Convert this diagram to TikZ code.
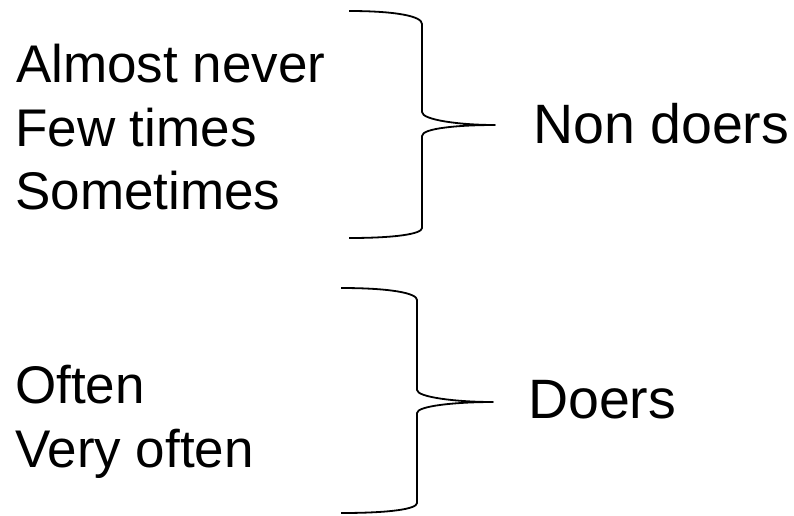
\documentclass[tikz,border=0pt]{standalone}
\usepackage{fontspec}
\setmainfont{Liberation Sans}
\begin{document}
\begin{tikzpicture}[x=1pt,y=-1pt,
  lbl/.style={anchor=base west,inner sep=0pt,font=\fontsize{53}{60}\selectfont},
  grp/.style={anchor=base west,inner sep=0pt,font=\fontsize{55.5}{62}\selectfont},
  brace/.style={draw=black,line width=1.8pt,line join=round}]
\useasboundingbox (0,0) rectangle (794,515);
\node[lbl] (a1) at (16,82) {Almost never};
\node[lbl] (a2) at (15,146) {Few times};
\node[lbl] (a3) at (15,209) {Sometimes};
\node[grp] (nd) at (533,143) {Non doers};
\node[lbl] (b1) at (15,403) {Often};
\node[lbl] (b2) at (15,467) {Very often};
\node[grp] (d) at (528,418) {Doers};
\coordinate (t1) at (495,125);
\coordinate (t2) at (493,402);
\draw[brace] (349,11) .. controls (395,11) and (422,16) .. (422,24) -- (422,112)
  .. controls (422,120) and (460,125) .. (t1)
  .. controls (460,125) and (422,128) .. (422,136) -- (422,228)
  .. controls (422,234) and (395,238) .. (349,238);
\draw[brace] (341,288) .. controls (390,288) and (417,293) .. (417,300) -- (417,390)
  .. controls (417,397) and (455,402) .. (t2)
  .. controls (455,402) and (417,406) .. (417,413) -- (417,503)
  .. controls (417,509) and (390,513) .. (341,513);
\end{tikzpicture}
\end{document}
